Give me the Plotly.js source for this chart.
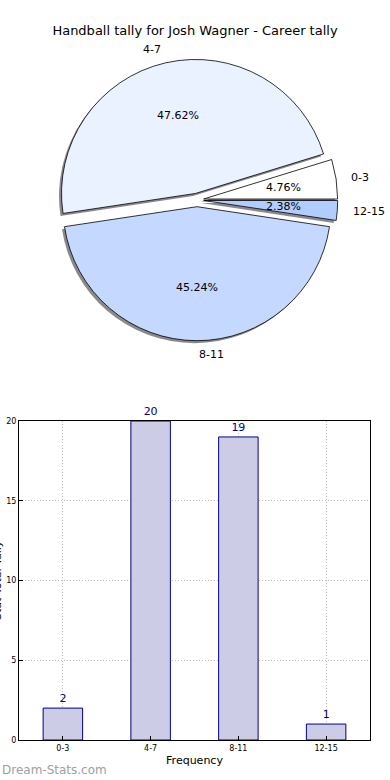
<!DOCTYPE html>
<html><head><meta charset="utf-8">
<script src="https://cdn.plot.ly/plotly-3.0.1.min.js"></script>
<style>html,body{margin:0;padding:0;background:#fff;} #chart{width:390px;height:780px;}</style>
</head><body><div id="chart"></div>
<script>
const categories = ['0-3', '4-7', '8-11', '12-15'];
const tallies = [2, 20, 19, 1];
const sliceColors = ['#ffffff', '#eaf1ff', '#c5d8ff', '#b1cdff'];
const yTicks = [0, 5, 10, 15, 20];
const chartTitle = 'Handball tally for Josh Wagner - Career tally';
const xTitle = 'Frequency';
const yTitle = 'Stat Total Tally';
const watermark = 'Dream-Stats.com';

const W = 390, H = 780;
const FONT = 'DejaVu Sans, sans-serif';
const pull = 0.05;
const cx = 197, cy = 200, r = 134;
const half = r * (1 + pull);
const fx = p => p / W, fy = p => 1 - p / H;
const dom = (dx, dy) => ({x: [fx(cx - half + dx), fx(cx + half + dx)], y: [fy(cy + half + dy), fy(cy - half + dy)]});

const total = tallies.reduce((a, b) => a + b, 0);
// first slice starts at 3 o'clock and runs counterclockwise
const startRotation = 90 - 360 * tallies[0] / total;

const pieBase = {
  type: 'pie', labels: categories, values: tallies, sort: false,
  direction: 'counterclockwise', rotation: startRotation,
  pull: categories.map(() => pull), textinfo: 'none', hoverinfo: 'none', showlegend: false
};
const shadow = Object.assign({}, pieBase, {
  marker: {colors: categories.map(() => '#8a8a8a'), line: {width: 0}},
  domain: dom(-2.5, 2.5)
});
const pie = Object.assign({}, pieBase, {
  marker: {colors: sliceColors, line: {color: '#000000', width: 0.8}},
  domain: dom(0, 0)
});

const annotations = [];
let cum = 0;
tallies.forEach((v, i) => {
  const s = cum / total, e = (cum + v) / total;
  cum += v;
  const th = Math.PI * (s + e);
  const c = Math.cos(th), sn = Math.sin(th);
  const ex = cx + pull * r * c, ey = cy - pull * r * sn;
  annotations.push({
    xref: 'paper', yref: 'paper', x: fx(ex + 0.6 * r * c), y: fy(ey - 0.6 * r * sn),
    text: (100 * v / total).toFixed(2) + '%', showarrow: false,
    font: {family: FONT, size: 11, color: '#000'}, xanchor: 'center', yanchor: 'middle'
  });
  annotations.push({
    xref: 'paper', yref: 'paper', x: fx(ex + 1.1 * r * c), y: fy(ey - 1.1 * r * sn),
    text: categories[i], showarrow: false,
    font: {family: FONT, size: 11, color: '#000'},
    xanchor: c > -1e-6 ? 'left' : 'right', yanchor: 'middle'
  });
});
annotations.push({
  xref: 'paper', yref: 'paper', x: fx(-3), y: fy(580), text: yTitle, textangle: -90,
  showarrow: false, font: {family: FONT, size: 11, color: '#000'}, xanchor: 'center', yanchor: 'middle'
});
annotations.push({
  xref: 'paper', yref: 'paper', x: 0, y: fy(770), text: watermark, showarrow: false,
  font: {family: FONT, size: 12, color: '#a0a0a0'}, xanchor: 'left', yanchor: 'middle'
});

const bars = {
  type: 'bar', x: categories, y: tallies, width: 0.45, xaxis: 'x', yaxis: 'y',
  marker: {color: '#ccccE6', line: {color: '#00008b', width: 1}},
  text: tallies.map(String), textposition: 'outside', cliponaxis: false, constraintext: 'none',
  textfont: {family: FONT, size: 11, color: '#00008b'}, hoverinfo: 'none', showlegend: false
};

const axisCommon = {
  showline: true, mirror: true, linecolor: '#000', linewidth: 1,
  showgrid: true, gridcolor: '#bdbdbd', griddash: '1px,2px', gridwidth: 1,
  ticks: 'inside', ticklen: 4, tickcolor: '#000', zeroline: false,
  tickfont: {family: FONT, size: 8, color: '#000'}
};

const layout = {
  width: W, height: H, margin: {l: 0, r: 0, t: 0, b: 0},
  paper_bgcolor: '#fff', plot_bgcolor: '#fff',
  font: {family: FONT},
  title: {text: chartTitle, font: {family: FONT, size: 13, color: '#000'}, x: 0.5, xanchor: 'center', y: fy(30), yanchor: 'middle'},
  xaxis: Object.assign({}, axisCommon, {
    domain: [fx(19), fx(370)], anchor: 'y', type: 'category', range: [-0.5, 3.5],
    title: {text: xTitle, font: {family: FONT, size: 11, color: '#000'}, standoff: 4}
  }),
  yaxis: Object.assign({}, axisCommon, {
    domain: [fy(740), fy(421)], anchor: 'x', range: [0, 20], tickvals: yTicks
  }),
  annotations: annotations
};

Plotly.newPlot('chart', [shadow, pie, bars], layout, {displayModeBar: false, staticPlot: true});
</script>
</body></html>
